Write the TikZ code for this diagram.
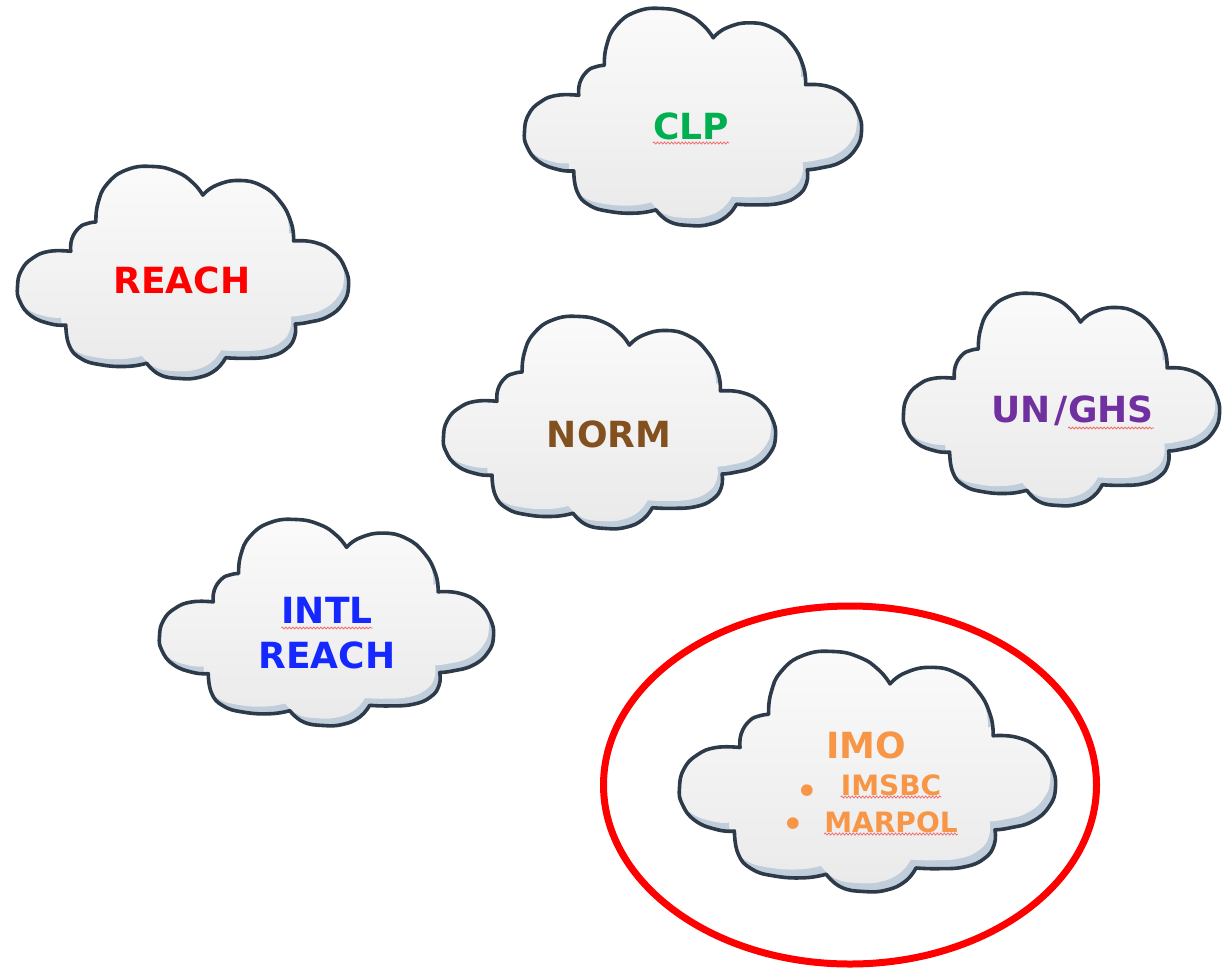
\documentclass[tikz,border=0pt]{standalone}
\usepackage{fontspec}
\setmainfont{DejaVu Sans}
\usetikzlibrary{decorations.pathmorphing}
\definecolor{cloudline}{RGB}{44,58,74}
\definecolor{cloudshadow}{RGB}{192,205,219}
\definecolor{cloudtop}{RGB}{251,251,251}
\definecolor{cloudbot}{RGB}{234,234,234}
\definecolor{clpgreen}{RGB}{0,176,80}
\definecolor{reachred}{RGB}{255,0,0}
\definecolor{normbrown}{RGB}{131,80,31}
\definecolor{ghspurple}{RGB}{112,48,160}
\definecolor{intlblue}{RGB}{20,40,255}
\definecolor{imoorange}{RGB}{247,150,70}
\definecolor{squigred}{RGB}{240,110,110}
\definecolor{ringred}{RGB}{255,0,0}
\tikzset{lobe/.style={smooth,tension=0.8}}
\def\cloudpath{plot[lobe] coordinates {(0.146,0.748) (0.102,0.743) (0.042,0.705) (0.007,0.635) (0,0.566) (0.012,0.489) (0.047,0.431) (0.097,0.400) (0.161,0.400)}
-- plot[lobe] coordinates {(0.161,0.400) (0.164,0.343) (0.186,0.289) (0.213,0.268) (0.237,0.262)}
-- plot[lobe] coordinates {(0.237,0.262) (0.243,0.174) (0.271,0.082) (0.331,0.015) (0.410,0) (0.480,0.025) (0.530,0.077) (0.560,0.135)}
-- plot[lobe] coordinates {(0.560,0.135) (0.600,0.089) (0.669,0.066) (0.739,0.092) (0.794,0.166) (0.827,0.266) (0.834,0.351)}
-- plot[lobe] coordinates {(0.834,0.351) (0.898,0.358) (0.956,0.405) (0.990,0.482) (1.0,0.566) (0.983,0.646) (0.938,0.708) (0.878,0.735) (0.839,0.743)}
-- plot[lobe] coordinates {(0.839,0.743) (0.837,0.805) (0.811,0.862) (0.759,0.897) (0.689,0.905) (0.629,0.902)}
-- plot[lobe] coordinates {(0.629,0.902) (0.600,0.958) (0.550,0.994) (0.490,1.0) (0.430,0.982) (0.390,0.928)}
-- plot[lobe] coordinates {(0.390,0.928) (0.331,0.943) (0.251,0.935) (0.191,0.905) (0.156,0.843) (0.146,0.748)}
-- cycle}
\newcommand\drawcloud[4]{%
  \begin{scope}[shift={(#1,#2)},xscale=#3,yscale=#4]
    \begin{scope}
      \clip \cloudpath;
      \fill[cloudshadow] \cloudpath;
      \shade[top color=cloudtop,bottom color=cloudbot,shift={(-0.014,-0.035)}] \cloudpath;
    \end{scope}
    \draw[cloudline,line width=3.6pt,line join=round] \cloudpath;
  \end{scope}}
\tikzset{
  big/.style={inner sep=0pt,anchor=base,font=\fontsize{36}{40}\selectfont\bfseries},
  small/.style={inner sep=0pt,anchor=base,font=\fontsize{28}{32}\selectfont\bfseries},
  bulletmark/.style={inner sep=0pt,anchor=base,font=\fontsize{40}{44}\selectfont},
  squiggle/.style={squigred,line width=0.8pt,decorate,decoration={snake,segment length=3.5pt,amplitude=1pt}},
  ring/.style={ringred,line width=7pt}
}
\begin{document}
\begin{tikzpicture}[x=1pt,y=-1pt]
\useasboundingbox (0,0) rectangle (1222,968);
\fill[white] (0,0) rectangle (1222,968);
% clouds
\drawcloud{524.5}{8.5}{337}{217}
\drawcloud{17.5}{166.5}{331}{212}
\drawcloud{443.5}{316.5}{332}{212}
\drawcloud{903.5}{293.5}{316}{212}
\drawcloud{159.5}{519.5}{334}{206}
\drawcloud{679.5}{651.5}{376}{240}
% ring
\draw[ring] (850,785) ellipse [x radius=246.5,y radius=179];
% labels
\node[big,text=clpgreen] (clp) at (691,140) {CLP};
\node[big,text=reachred] (reach) at (182,293) {REACH};
\node[big,text=normbrown] (norm) at (609,447) {NORM};
\node[big,text=ghspurple,anchor=base east] (un) at (1068,422) {UN\hspace{4pt}/\hspace{4pt}};
\node[big,text=ghspurple,anchor=base west] (ghs) at (un.base east) {GHS};
\node[big,text=intlblue] (intl) at (327,623) {INTL};
\node[big,text=intlblue] (intlreach) at (327,668) {REACH};
\node[big,text=imoorange] (imo) at (866,758) {IMO};
\node[small,text=imoorange] (imsbc) at (891,795) {IMSBC};
\node[small,text=imoorange] (marpol) at (891,832) {MARPOL};
\node[bulletmark,text=imoorange] (b1) at (807,805) {•};
\node[bulletmark,text=imoorange] (b2) at (793,838) {•};
% spelling squiggles
\draw[squiggle] ([yshift=-3pt]clp.base west) -- ([yshift=-3pt]clp.base east);
\draw[squiggle] ([yshift=-6pt]ghs.base west) -- ([yshift=-6pt]ghs.base east);
\draw[squiggle] ([yshift=-5pt]intl.base west) -- ([yshift=-5pt]intl.base east);
\draw[squiggle] ([yshift=-2pt]imsbc.base west) -- ([yshift=-2pt]imsbc.base east);
\draw[squiggle] ([yshift=-2pt]marpol.base west) -- ([yshift=-2pt]marpol.base east);
\end{tikzpicture}
\end{document}
